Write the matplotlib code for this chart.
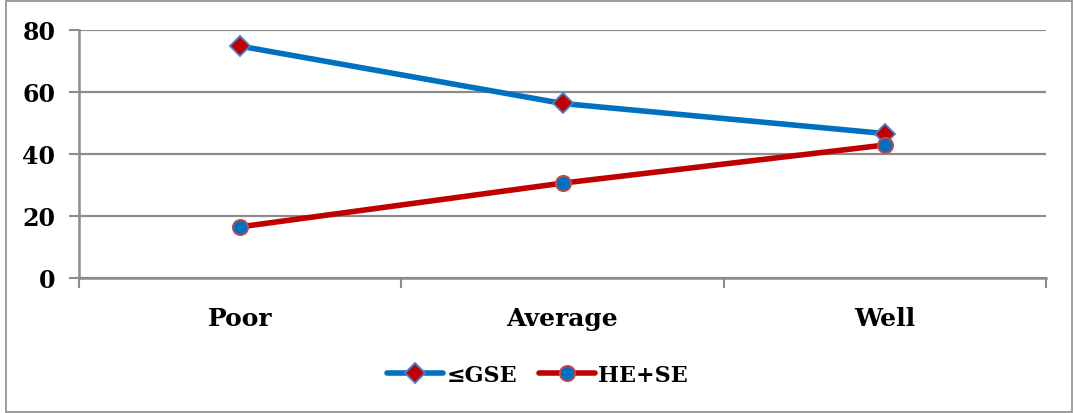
import matplotlib
matplotlib.use("Agg")
import matplotlib.pyplot as plt
from matplotlib.patches import Rectangle

categories = ["Poor", "Average", "Well"]
gse = [74.8, 56.3, 46.6]
hese = [16.5, 30.6, 42.9]
yticks = [0, 20, 40, 60, 80]

BLUE = "#0070C0"
RED = "#C00000"
GRID = "#8c8c8c"

plt.rcParams['font.family'] = ['DejaVu Serif']
plt.rcParams['font.weight'] = 'bold'

fig = plt.figure(figsize=(10.75, 4.14), dpi=100)
ax = fig.add_axes([79/1075, 1 - 279/414, (1046-79)/1075, (279-31)/414])

x = list(range(len(categories)))
ax.plot(x, gse, color=BLUE, lw=4.0, marker='D', markersize=10,
        markerfacecolor=RED, markeredgecolor="#4a7ec8", markeredgewidth=1.3,
        label="≤GSE", solid_capstyle='round', zorder=3)
ax.plot(x, hese, color=RED, lw=4.0, marker='o', markersize=11,
        markerfacecolor=BLUE, markeredgecolor="#c84a4a", markeredgewidth=1.3,
        label="HE+SE", solid_capstyle='round', zorder=3)

ax.set_xlim(-0.5, 2.5)
ax.set_ylim(0, 80)
ax.set_yticks(yticks)
ax.set_xticks(x)
ax.set_xticklabels(categories)
ax.set_xticks([-0.5, 0.5, 1.5, 2.5], minor=True)
ax.tick_params(axis='x', which='major', length=0, pad=20, labelsize=18)
ax.tick_params(axis='x', which='minor', length=7, width=1.5, color=GRID, direction='out')
ax.tick_params(axis='y', length=7, width=1.5, color=GRID, labelsize=17, pad=10)
for lab in ax.get_xticklabels() + ax.get_yticklabels():
    lab.set_fontweight('bold')

ax.grid(axis='y', color=GRID, lw=1.6)
ax.set_axisbelow(True)
for s in ['top', 'right']:
    ax.spines[s].set_visible(False)
for s in ['left', 'bottom']:
    ax.spines[s].set_color(GRID)
    ax.spines[s].set_linewidth(1.8)

leg = fig.legend(loc='center', bbox_to_anchor=(0.5, 1 - 376/414), ncol=2, frameon=False,
                 prop={'size': 16, 'weight': 'bold'}, handlelength=2.5,
                 columnspacing=1.0, handletextpad=0.15)

fig.patches.append(Rectangle((6/1075, 1/414), (1072-6)/1075, (412-1)/414,
                             transform=fig.transFigure, fill=False,
                             edgecolor=GRID, lw=1.2))

fig.savefig("out.png", dpi=100)
